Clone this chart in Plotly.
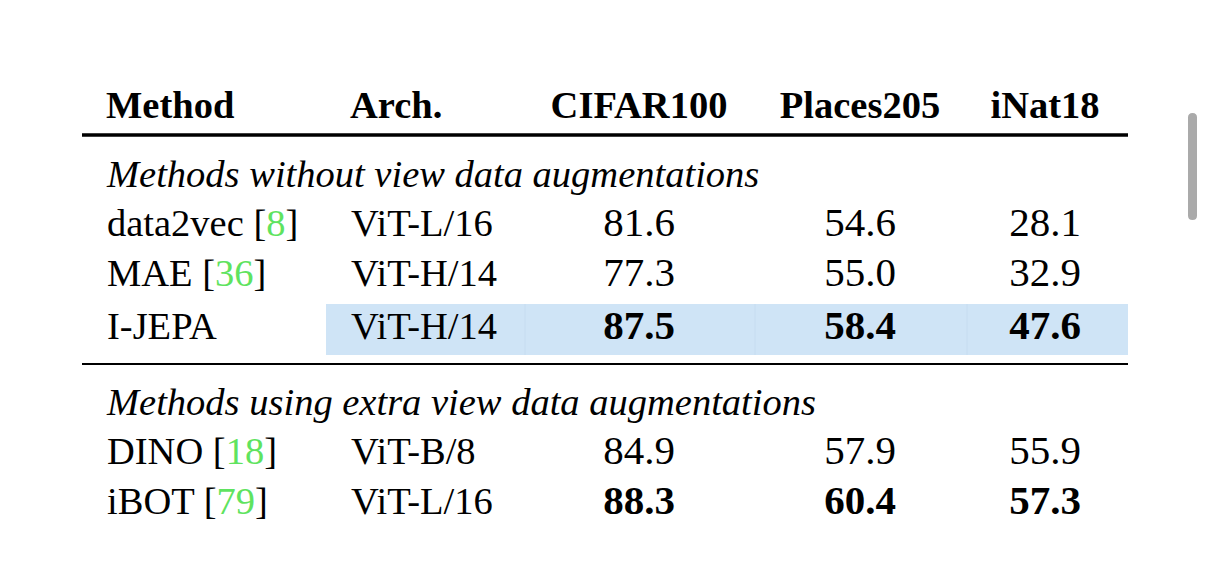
import plotly.graph_objects as go

# ---------------- data ----------------
columns = ["Method", "Arch.", "CIFAR100", "Places205", "iNat18"]
groups = ["Methods without view data augmentations",
          "Methods using extra view data augmentations"]
methods = ["data2vec", "MAE", "I-JEPA", "DINO", "iBOT"]
refs = ["8", "36", "", "18", "79"]
archs = ["ViT-L/16", "ViT-H/14", "ViT-H/14", "ViT-B/8", "ViT-L/16"]
cifar100 = [81.6, 77.3, 87.5, 84.9, 88.3]
places205 = [54.6, 55.0, 58.4, 57.9, 60.4]
inat18 = [28.1, 32.9, 47.6, 55.9, 57.3]
bold_rows = ["I-JEPA", "iBOT"]
highlight_method = "I-JEPA"

# ---------------- layout constants (page pixel space) ----------------
W, H = 1206, 568
PAD = 8  # default page body margin
FONT = "Liberation Serif"
FS = 38.5
NUM_FS = 41
BLACK = "#000000"
GREEN = "#5fe35f"
HL = "#cfe4f6"
HL_SEP = "#c6dcf0"

x_left = 82
x_right = 1128
col_x = [108, 352, 639, 860, 1045]          # anchor x for each column
col_anchor = ["left", "left", "center", "center", "center"]
header_y = 108
toprule_y = 135
group_y = [177, 405]
row_y = [226, 276, 329, 454, 504]
midrule_y = 364
hl_y0, hl_y1, hl_x0 = 304, 355, 326
hl_seps = [525, 755, 967]

fig = go.Figure()


def add_text(xs, ys, texts, anchor, bold=False, italic=False, size=FS):
    pos = {"left": "middle right", "center": "middle center"}[anchor]
    t = []
    for s in texts:
        if bold:
            s = f"<b>{s}</b>"
        if italic:
            s = f"<i>{s}</i>"
        t.append(s)
    fig.add_trace(go.Scatter(
        x=xs, y=ys, mode="text", text=t, textposition=pos,
        textfont=dict(family=FONT, size=size, color=BLACK),
        hoverinfo="skip", showlegend=False, cliponaxis=False))


# header
for i, c in enumerate(columns):
    x = col_x[i] - (2 if col_anchor[i] == "left" else 0)
    add_text([x], [header_y], [c], col_anchor[i], bold=True)

# group headers
for g, y in zip(groups, group_y):
    add_text([col_x[0] - 1], [y], [g], "left", italic=True)

# method column
m_txt = []
for m, r in zip(methods, refs):
    if r:
        m_txt.append(f"{m} [<span style='color:{GREEN}'>{r}</span>]")
    else:
        m_txt.append(m)
add_text([col_x[0] - 1] * len(methods), row_y, m_txt, "left")

# arch column
add_text([col_x[1] - 1] * len(archs), row_y, archs, "left")

# numeric columns
for ci, vals in zip([2, 3, 4], [cifar100, places205, inat18]):
    for m, v, y in zip(methods, vals, row_y):
        add_text([col_x[ci]], [y], [f"{v:.1f}"], "center",
                 bold=(m in bold_rows), size=NUM_FS)

shapes = []
# highlight of I-JEPA row
shapes.append(dict(type="rect", xref="x", yref="y", x0=hl_x0, x1=x_right,
                   y0=hl_y0, y1=hl_y1, fillcolor=HL, line=dict(width=0),
                   layer="below"))
for sx in hl_seps:
    shapes.append(dict(type="line", xref="x", yref="y", x0=sx, x1=sx,
                       y0=hl_y0, y1=hl_y1, line=dict(color=HL_SEP, width=1),
                       layer="below"))
# rules
shapes.append(dict(type="line", xref="x", yref="y", x0=x_left, x1=x_right,
                   y0=toprule_y, y1=toprule_y, line=dict(color=BLACK, width=3.5)))
shapes.append(dict(type="line", xref="x", yref="y", x0=x_left, x1=x_right,
                   y0=midrule_y, y1=midrule_y, line=dict(color=BLACK, width=2.2)))
# scrollbar thumb (rounded)
sx0, sx1, sy0, sy1, r = 1188, 1197, 113, 220, 4.5
sb_path = (f"M {sx0},{sy0 + r} Q {sx0},{sy0} {sx0 + r},{sy0} Q {sx1},{sy0} {sx1},{sy0 + r} "
           f"L {sx1},{sy1 - r} Q {sx1},{sy1} {sx0 + r},{sy1} Q {sx0},{sy1} {sx0},{sy1 - r} Z")
shapes.append(dict(type="path", xref="x", yref="y", path=sb_path,
                   fillcolor="#aaaaaa", line=dict(width=0)))

fig.update_layout(
    width=W - 2 * PAD, height=H - 2 * PAD,
    margin=dict(l=0, r=0, t=0, b=0),
    paper_bgcolor="white", plot_bgcolor="white",
    xaxis=dict(range=[PAD, W - PAD], visible=False, fixedrange=True),
    yaxis=dict(range=[H - PAD, PAD], visible=False, fixedrange=True),
    shapes=shapes,
    showlegend=False,
)

fig.write_html("out.html", config={"displayModeBar": False})
